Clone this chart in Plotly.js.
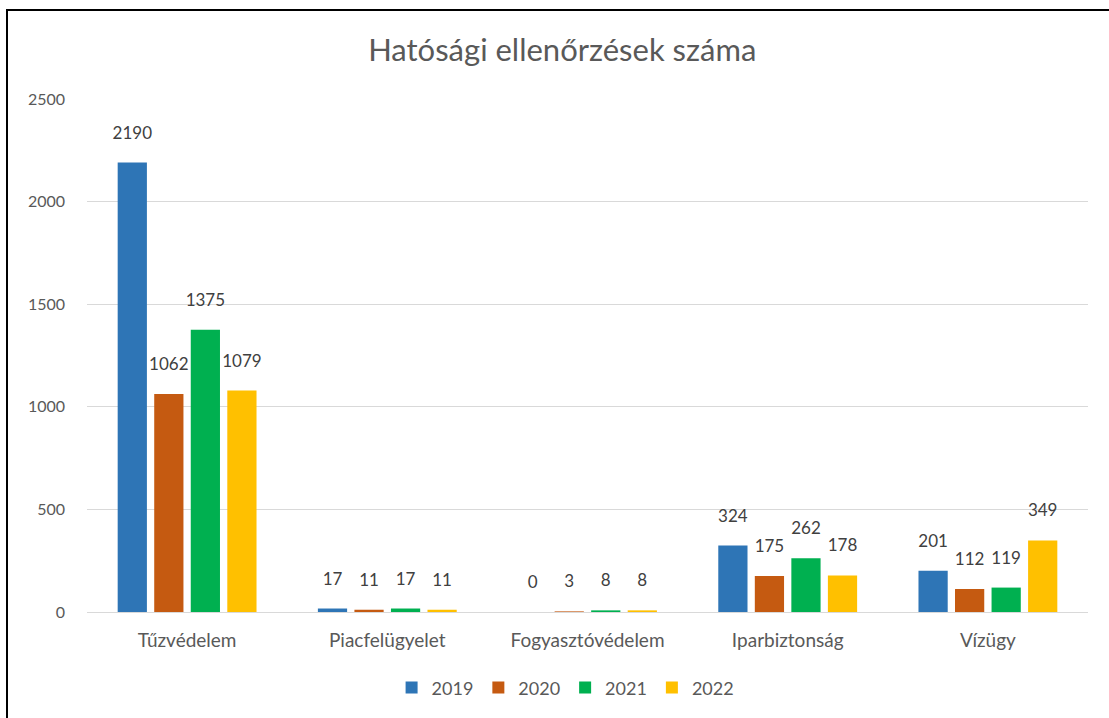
<!DOCTYPE html>
<html>
<head>
<meta charset="utf-8">
<script src="https://cdn.plot.ly/plotly-3.0.1.min.js"></script>
<style>
  html, body { margin: 0; padding: 0; background: #fff; }
  #wrap { position: relative; width: 1109px; height: 718px; overflow: hidden; }
  #chart { position: absolute; left: 0; top: 0; width: 1109px; height: 718px; }
  #frame { position: absolute; left: 6px; top: 9px; width: 1200px; height: 800px;
           border-left: 2px solid #000; border-top: 2px solid #000; pointer-events: none; }
</style>
</head>
<body>
<div id="wrap">
  <div id="chart"></div>
  <div id="frame"></div>
</div>
<script>
const categories = ["Tűzvédelem", "Piacfelügyelet", "Fogyasztóvédelem", "Iparbiztonság", "Vízügy"];
const seriesNames = ["2019", "2020", "2021", "2022"];
const values2019 = [2190, 17, 0, 324, 201];
const values2020 = [1062, 11, 3, 175, 112];
const values2021 = [1375, 17, 8, 262, 119];
const values2022 = [1079, 11, 8, 178, 349];
const colors = ["#2E75B6", "#C55A11", "#00B050", "#FFC000"];
const yTicks = [0, 500, 1000, 1500, 2000, 2500];

const allValues = [values2019, values2020, values2021, values2022];
const FONT = "Lato, 'Open Sans', sans-serif";

const barTraces = allValues.map((vals, i) => ({
  type: "bar",
  name: seriesNames[i],
  x: categories,
  y: vals,
  offsetgroup: seriesNames[i],
  marker: { color: colors[i], line: { width: 0 } },
  hoverinfo: "x+y+name"
}));

const labelTraces = allValues.map((vals, i) => ({
  type: "scatter",
  mode: "markers+text",
  name: seriesNames[i] + " label",
  x: categories,
  y: vals,
  offsetgroup: seriesNames[i],
  marker: { size: 30, color: "rgba(0,0,0,0)" },
  text: vals.map(String),
  textposition: "top center",
  textfont: { family: FONT, size: 17, color: "#404040" },
  cliponaxis: false,
  showlegend: false,
  hoverinfo: "skip"
}));

const layout = {
  width: 1109,
  height: 718,
  paper_bgcolor: "#ffffff",
  plot_bgcolor: "#ffffff",
  font: { family: FONT, color: "#595959", size: 17 },
  title: {
    text: "Hatósági ellenőrzések száma",
    font: { family: FONT, size: 31, color: "#595959" },
    x: 0.507, xanchor: "center", xref: "container",
    y: 0.930, yanchor: "middle", yref: "container"
  },
  margin: { l: 87, r: 21, t: 99, b: 106, pad: 0 },
  barmode: "group",
  bargap: 0.27,
  bargroupgap: 0.2,
  scattermode: "group",
  scattergap: 0.27,
  showlegend: true,
  legend: {
    orientation: "h",
    xref: "container", yref: "container",
    x: 0.51, xanchor: "center",
    y: 0.042, yanchor: "middle",
    font: { family: FONT, size: 18, color: "#595959" },
    itemwidth: 30,
    traceorder: "normal"
  },
  xaxis: {
    type: "category",
    showgrid: false,
    showline: true,
    linecolor: "#d9d9d9",
    linewidth: 1,
    ticks: "",
    ticklabelstandoff: 11,
    tickfont: { family: FONT, size: 19, color: "#595959" },
    zeroline: false
  },
  yaxis: {
    range: [0, 2500],
    tickvals: yTicks,
    ticktext: yTicks.map(String),
    showgrid: true,
    gridcolor: "#d9d9d9",
    gridwidth: 1,
    showline: false,
    zeroline: false,
    ticks: "",
    ticklabelstandoff: 21,
    tickfont: { family: FONT, size: 16, color: "#595959" }
  }
};

Plotly.newPlot("chart", barTraces.concat(labelTraces), layout, { displayModeBar: false, staticPlot: true });
</script>
</body>
</html>
